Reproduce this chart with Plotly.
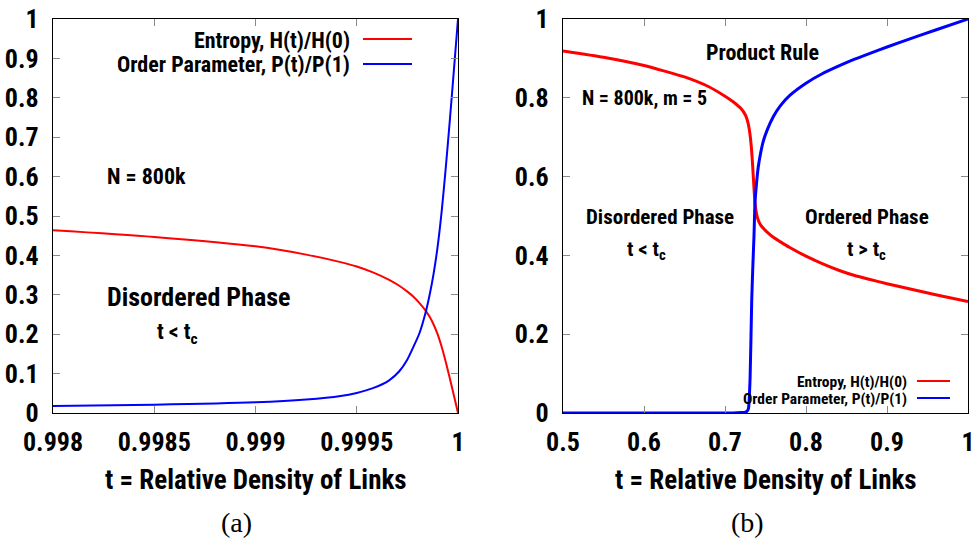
import plotly.graph_objects as go

# ---------------- data ----------------
t_a = [0.998, 0.9985, 0.999, 0.99925, 0.99942, 0.9995, 0.99958, 0.99966, 0.99971,
       0.99975, 0.99978, 0.99981, 0.99984, 0.99986, 0.99988, 0.9999, 0.99992,
       0.99994, 0.99996, 0.99998, 1.0]
entropy_a = [0.464, 0.447, 0.423, 0.402, 0.383, 0.372, 0.357, 0.338, 0.323,
             0.308, 0.295, 0.279, 0.260, 0.244, 0.224, 0.199, 0.167,
             0.129, 0.087, 0.044, 0.0]
order_a = [0.018, 0.021, 0.027, 0.034, 0.043, 0.051, 0.063, 0.083, 0.106,
           0.136, 0.168, 0.203, 0.255, 0.300, 0.355, 0.425, 0.515,
           0.625, 0.745, 0.872, 1.0]

t_b = [0.50, 0.55, 0.60, 0.65, 0.68, 0.70, 0.71, 0.72, 0.725, 0.727, 0.729,
       0.731, 0.733, 0.7345, 0.7358, 0.737, 0.739, 0.7411, 0.744, 0.7473,
       0.752, 0.7596, 0.768, 0.78, 0.80, 0.82, 0.842, 0.86, 0.879, 0.90,
       0.93, 0.96, 1.0]
entropy_b = [0.919, 0.903, 0.882, 0.853, 0.828, 0.804, 0.790, 0.772, 0.757, 0.747, 0.731,
             0.705, 0.663, 0.615, 0.570, 0.533, 0.505, 0.489, 0.477, 0.469,
             0.459, 0.446, 0.435, 0.420, 0.398, 0.379, 0.361, 0.349, 0.339, 0.328,
             0.314, 0.300, 0.283]
order_b = [0.0, 0.0, 0.0, 0.0, 0.0, 0.0, 0.0, 0.001, 0.002, 0.004, 0.012,
           0.090, 0.287, 0.380, 0.450, 0.533, 0.585, 0.625, 0.660, 0.690,
           0.718, 0.752, 0.779, 0.806, 0.837, 0.861, 0.882, 0.898, 0.913, 0.929,
           0.951, 0.972, 1.0]

series_names = ["Entropy, H(t)/H(0)", "Order Parameter, P(t)/P(1)"]
colors = ["#ff0000", "#0000ff"]

xa_ticks = [0.998, 0.9985, 0.999, 0.9995, 1.0]
xa_labels = ["0.998", "0.9985", "0.999", "0.9995", "1"]
ya_ticks = [0, 0.1, 0.2, 0.3, 0.4, 0.5, 0.6, 0.7, 0.8, 0.9, 1.0]
ya_labels = ["0", "0.1", "0.2", "0.3", "0.4", "0.5", "0.6", "0.7", "0.8", "0.9", "1"]
xb_ticks = [0.5, 0.6, 0.7, 0.8, 0.9, 1.0]
xb_labels = ["0.5", "0.6", "0.7", "0.8", "0.9", "1"]
yb_ticks = [0, 0.2, 0.4, 0.6, 0.8, 1.0]
yb_labels = ["0", "0.2", "0.4", "0.6", "0.8", "1"]

FONT = "Liberation Sans Narrow, Arial Narrow, Roboto Condensed, Liberation Sans, Arial, sans-serif"
SERIF = "Liberation Serif, DejaVu Serif, serif"

fig = go.Figure()
fig.add_trace(go.Scatter(x=t_a, y=entropy_a, mode="lines", name=series_names[0],
                         line=dict(color=colors[0], width=2, shape="spline", smoothing=0.8),
                         xaxis="x", yaxis="y", showlegend=False))
fig.add_trace(go.Scatter(x=t_a, y=order_a, mode="lines", name=series_names[1],
                         line=dict(color=colors[1], width=2, shape="spline", smoothing=0.8),
                         xaxis="x", yaxis="y", showlegend=False))
fig.add_trace(go.Scatter(x=t_b, y=entropy_b, mode="lines", name=series_names[0],
                         line=dict(color=colors[0], width=3, shape="spline", smoothing=0.5),
                         xaxis="x2", yaxis="y2", showlegend=False))
fig.add_trace(go.Scatter(x=t_b, y=order_b, mode="lines", name=series_names[1],
                         line=dict(color=colors[1], width=3, shape="spline", smoothing=0.5),
                         xaxis="x2", yaxis="y2", showlegend=False))

W, H = 978, 541
dom_xa = [53 / W, 458 / W]
dom_xb = [563 / W, 968 / W]
dom_y = [1 - 413 / H, 1 - 19 / H]

def px(x):
    return x / W

def py(y):
    return 1 - y / H

axis_common = dict(showgrid=False, zeroline=False, showline=True, linecolor="black",
                   linewidth=1.2, mirror="ticks", ticks="inside", ticklen=7,
                   tickcolor="#8a8a8a", tickwidth=1, automargin=False,
                   tickfont=dict(family=FONT, size=26, color="black", weight="bold"))

fig.update_layout(
    width=W, height=H,
    margin=dict(l=0, r=0, t=0, b=0, autoexpand=False),
    paper_bgcolor="white", plot_bgcolor="white",
    xaxis=dict(domain=dom_xa, range=[0.998, 1.0], tickvals=xa_ticks, ticktext=xa_labels,
               anchor="y", ticklabelstandoff=6, **axis_common),
    yaxis=dict(domain=dom_y, range=[0, 1], tickvals=ya_ticks, ticktext=ya_labels,
               anchor="x", ticklabelstandoff=8, **axis_common),
    xaxis2=dict(domain=dom_xb, range=[0.5, 1.0], tickvals=xb_ticks, ticktext=xb_labels,
                anchor="y2", ticklabelstandoff=6, **axis_common),
    yaxis2=dict(domain=dom_y, range=[0, 1], tickvals=yb_ticks, ticktext=yb_labels,
                anchor="x2", ticklabelstandoff=8, **axis_common),
)

annotations = []
shapes = []

def text(x, y, s, size, xanchor="left", family=FONT, bold=True):
    annotations.append(dict(x=px(x), y=py(y), xref="paper", yref="paper", text=s,
                            showarrow=False, xanchor=xanchor, yanchor="middle",
                            font=dict(family=family, size=size, color="black",
                                      weight="bold" if bold else "normal")))

# legend panel a (text right, sample line)
for i, yy in enumerate([40, 65]):
    text(352, yy, series_names[i], 22, xanchor="right")
    shapes.append(dict(type="line", xref="paper", yref="paper",
                       x0=px(363), x1=px(412), y0=py(yy - 1), y1=py(yy - 1),
                       line=dict(color=colors[i], width=2)))
# legend panel b
for i, yy in enumerate([382, 399]):
    text(909, yy, series_names[i], 15.5, xanchor="right")
    shapes.append(dict(type="line", xref="paper", yref="paper",
                       x0=px(917), x1=px(950), y0=py(yy - 1), y1=py(yy - 1),
                       line=dict(color=colors[i], width=2)))

# panel a labels
text(105, 177, "N = 800k", 22)
text(105, 297, "Disordered Phase", 26)
text(155, 333, "t &lt; t<sub>c</sub>", 22)
# panel b labels
text(762, 52, "Product Rule", 22, xanchor="center")
text(580, 98, "N = 800k, m = 5", 20)
text(660, 217, "Disordered Phase", 21, xanchor="center")
text(646, 250, "t &lt; t<sub>c</sub>", 21, xanchor="center")
text(867, 217, "Ordered Phase", 21, xanchor="center")
text(866, 250, "t &gt; t<sub>c</sub>", 21, xanchor="center")

# axis titles
text(256, 480, "t = Relative Density of Links", 27, xanchor="center")
text(766, 480, "t = Relative Density of Links", 27, xanchor="center")
# captions
text(236, 522, "(a)", 28, xanchor="center", family=SERIF, bold=False)
text(747, 522, "(b)", 28, xanchor="center", family=SERIF, bold=False)

fig.update_layout(annotations=annotations, shapes=shapes)
fig.write_html("out.html")
